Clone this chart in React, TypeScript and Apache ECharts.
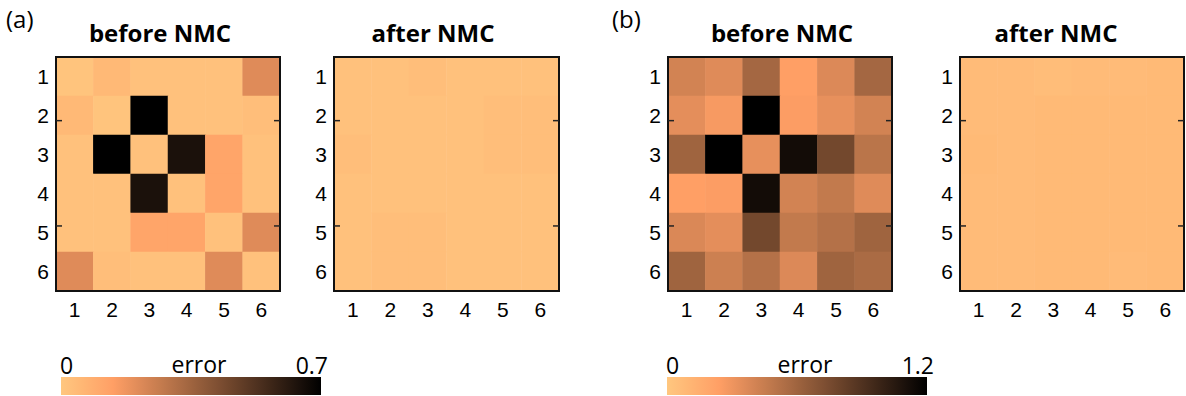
import React, { useEffect, useRef } from "react";
import * as echarts from "echarts";

const rowLabels = ["1", "2", "3", "4", "5", "6"];
const colLabels = ["1", "2", "3", "4", "5", "6"];

const panelTitles = ["before NMC", "after NMC", "before NMC", "after NMC"];
const groupLabels = ["(a)", "(b)"];
const maxA = 0.7;
const maxB = 1.2;
const colorbarLabel = "error";

// rows top->bottom, columns left->right
const aBefore = [
  [0.01, 0.05, 0.02, 0.02, 0.02, 0.21],
  [0.05, 0.01, 0.70, 0.02, 0.02, 0.03],
  [0.02, 0.70, 0.02, 0.64, 0.12, 0.02],
  [0.02, 0.02, 0.64, 0.02, 0.12, 0.02],
  [0.02, 0.02, 0.12, 0.12, 0.02, 0.21],
  [0.21, 0.03, 0.02, 0.02, 0.21, 0.02],
];
const aAfter = [
  [0.02, 0.02, 0.03, 0.02, 0.02, 0.02],
  [0.02, 0.02, 0.02, 0.02, 0.03, 0.03],
  [0.03, 0.02, 0.02, 0.02, 0.03, 0.03],
  [0.02, 0.02, 0.02, 0.02, 0.02, 0.02],
  [0.02, 0.03, 0.03, 0.02, 0.02, 0.02],
  [0.02, 0.03, 0.03, 0.02, 0.02, 0.02],
];
const bBefore = [
  [0.41, 0.36, 0.58, 0.24, 0.37, 0.58],
  [0.34, 0.27, 1.20, 0.25, 0.33, 0.41],
  [0.60, 1.20, 0.33, 1.13, 0.77, 0.50],
  [0.24, 0.25, 1.13, 0.41, 0.47, 0.36],
  [0.38, 0.34, 0.77, 0.47, 0.52, 0.60],
  [0.60, 0.43, 0.52, 0.37, 0.60, 0.56],
];
const bAfter = [
  [0.07, 0.07, 0.06, 0.07, 0.07, 0.08],
  [0.07, 0.07, 0.08, 0.08, 0.08, 0.08],
  [0.08, 0.07, 0.08, 0.08, 0.08, 0.08],
  [0.07, 0.07, 0.08, 0.08, 0.08, 0.08],
  [0.07, 0.07, 0.08, 0.08, 0.08, 0.08],
  [0.07, 0.07, 0.08, 0.08, 0.07, 0.08],
];

const matrices = [aBefore, aAfter, bBefore, bAfter];

// layout
const gridLefts = [56, 334, 668, 960];
const gridWidths = [224, 225, 224, 224];
const gridTop = 57;
const gridHeight = 234;
const titleCenters = [160, 433, 782, 1056];

function copperRev(t: number) {
  const x = 1 - t;
  const r = Math.round(Math.min(1, 1.25 * x) * 255);
  const g = Math.round(0.7812 * x * 255);
  const b = Math.round(0.4975 * x * 255);
  return `rgb(${r},${g},${b})`;
}
const STOPS = 40;
const rampColors: string[] = [];
for (let i = 0; i <= STOPS; i++) rampColors.push(copperRev(i / STOPS));

function toData(m: number[][]) {
  const out: [number, number, number][] = [];
  m.forEach((row, r) => row.forEach((v, c) => out.push([c, r, v])));
  return out;
}

export default function App() {
  const ref = useRef<HTMLDivElement>(null);
  useEffect(() => {
    if (!ref.current) return;
    const chart = echarts.init(ref.current, undefined, { renderer: "svg" });
    const tickFont = "'Liberation Sans', Arial, sans-serif";
    const titleFont = "'Open Sans', 'Noto Sans', sans-serif";

    const grids = gridLefts.map((l, i) => ({
      left: l,
      top: gridTop,
      width: gridWidths[i],
      height: gridHeight,
      containLabel: false,
    }));
    const xAxes = gridLefts.map((_, i) => ({
      type: "category",
      gridIndex: i,
      data: colLabels,
      axisLine: { show: false },
      axisTick: { show: false },
      splitLine: { show: false },
      axisLabel: { color: "#000", fontSize: 21, fontFamily: tickFont, margin: 8 },
    }));
    const yAxes = gridLefts.map((_, i) => ({
      type: "category",
      gridIndex: i,
      data: rowLabels,
      inverse: true,
      axisLine: { show: false },
      axisTick: { show: false },
      splitLine: { show: false },
      axisLabel: { color: "#000", fontSize: 21, fontFamily: tickFont, margin: 7 },
    }));
    const series = matrices.map((m, i) => ({
      type: "heatmap",
      xAxisIndex: i,
      yAxisIndex: i,
      data: toData(m),
      itemStyle: { borderWidth: 0 },
      emphasis: { disabled: true },
    }));

    const graphics: any[] = [];
    gridLefts.forEach((l, i) => {
      const w = gridWidths[i];
      graphics.push({
        type: "rect",
        z: 100,
        shape: { x: l, y: gridTop, width: w, height: gridHeight },
        style: { fill: "none", stroke: "#111", lineWidth: 2 },
      });
      [0.272, 0.722].forEach((f) => {
        const y = gridTop + gridHeight * f;
        graphics.push({
          type: "line",
          z: 100,
          shape: { x1: l, y1: y, x2: l + 6, y2: y },
          style: { stroke: "#222", lineWidth: 1.5 },
        });
        graphics.push({
          type: "line",
          z: 100,
          shape: { x1: l + w - 6, y1: y, x2: l + w, y2: y },
          style: { stroke: "#222", lineWidth: 1.5 },
        });
      });
      graphics.push({
        type: "text",
        x: titleCenters[i],
        y: 32,
        style: {
          text: panelTitles[i],
          fontFamily: titleFont,
          fontWeight: "bold",
          fontSize: 24,
          fill: "#000",
          align: "center",
          verticalAlign: "middle",
        },
      });
    });
    [[6, groupLabels[0]], [612, groupLabels[1]]].forEach(([x, t]) => {
      graphics.push({
        type: "text",
        x: x as number,
        y: 18,
        style: {
          text: t as string,
          fontFamily: titleFont,
          fontSize: 24,
          fill: "#000",
          align: "left",
          verticalAlign: "middle",
        },
      });
    });
    const bars = [
      { x: 61, w: 260, max: maxA },
      { x: 667, w: 260, max: maxB },
    ];
    bars.forEach((b) => {
      graphics.push({
        type: "rect",
        shape: { x: b.x, y: 377, width: b.w, height: 18 },
        style: {
          fill: new echarts.graphic.LinearGradient(
            0, 0, 1, 0,
            rampColors.map((c, i) => ({ offset: i / STOPS, color: c }))
          ),
        },
      });
      const lblStyle = { fontFamily: titleFont, fontSize: 23, fill: "#000", verticalAlign: "middle" };
      graphics.push({ type: "text", x: b.x - 1, y: 365, style: { ...lblStyle, text: "0", align: "left" } });
      graphics.push({ type: "text", x: b.x + b.w / 2 + 8, y: 364, style: { ...lblStyle, text: colorbarLabel, align: "center" } });
      graphics.push({ type: "text", x: b.x + b.w + 7, y: 365, style: { ...lblStyle, text: String(b.max), align: "right" } });
    });

    chart.setOption({
      animation: false,
      backgroundColor: "#fff",
      grid: grids,
      xAxis: xAxes,
      yAxis: yAxes,
      visualMap: [
        { type: "continuous", show: false, min: 0, max: maxA, seriesIndex: [0, 1], inRange: { color: rampColors } },
        { type: "continuous", show: false, min: 0, max: maxB, seriesIndex: [2, 3], inRange: { color: rampColors } },
      ],
      series,
      graphic: graphics,
    } as any);
    return () => chart.dispose();
  }, []);
  return (
    <div
      ref={ref}
      style={{ position: "fixed", left: 0, top: 0, width: 1186, height: 396 }}
    />
  );
}
